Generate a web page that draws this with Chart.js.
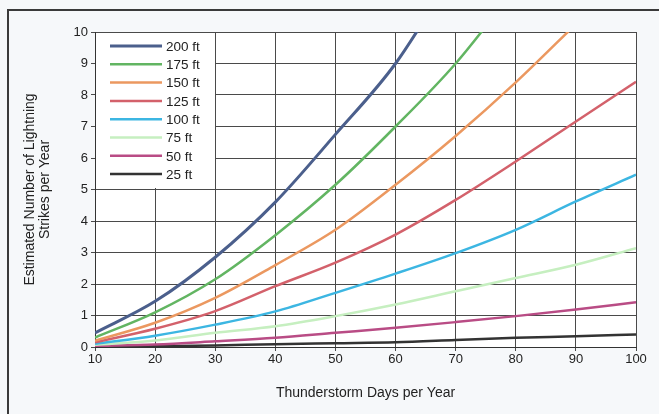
<!DOCTYPE html>
<html>
<head>
<meta charset="utf-8">
<script src="https://cdn.jsdelivr.net/npm/chart.js@4"></script>
<style>
  html, body { margin: 0; padding: 0; background: #f6f8fa; }
  #wrap { width: 659px; height: 414px; }
</style>
</head>
<body>
<div id="wrap"><canvas id="lightning"></canvas></div>
<script>
// thunderstorm days per year (x)
const days = [10, 20, 30, 40, 50, 60, 70, 80, 90, 100];

// estimated strikes per year (values past 10 run off the top)
const ft200 = [0.45, 1.45, 2.85, 4.6, 6.75, 9.0, 12.0];
const ft175 = [0.3, 1.1, 2.15, 3.55, 5.15, 7.0, 9.0, 11.4];
const ft150 = [0.2, 0.77, 1.56, 2.6, 3.72, 5.15, 6.7, 8.4, 10.25];
const ft125 = [0.15, 0.58, 1.14, 1.93, 2.68, 3.57, 4.67, 5.89, 7.16, 8.42];
const ft100 = [0.1, 0.36, 0.71, 1.13, 1.72, 2.33, 2.98, 3.72, 4.62, 5.47];
const ft75 = [0.07, 0.21, 0.45, 0.66, 0.98, 1.35, 1.77, 2.19, 2.61, 3.14];
const ft50 = [0.03, 0.08, 0.18, 0.29, 0.45, 0.61, 0.79, 0.98, 1.19, 1.42];
const ft25 = [0.0, 0.02, 0.05, 0.09, 0.12, 0.15, 0.22, 0.29, 0.34, 0.4];

const seriesLabels = ['200 ft', '175 ft', '150 ft', '125 ft', '100 ft', '75 ft', '50 ft', '25 ft'];
const seriesValues = [ft200, ft175, ft150, ft125, ft100, ft75, ft50, ft25];
const seriesColors = ['#4b5f8c', '#62b562', '#eb9860', '#d3616b', '#3cb6e2', '#c6efc0', '#b94c85', '#333333'];
const seriesWidths = [3, 2.5, 2.5, 2.5, 2.5, 2.5, 2.5, 2.5];

const yTicks = [0, 1, 2, 3, 4, 5, 6, 7, 8, 9, 10];

const font = 'Liberation Sans, Arial, sans-serif';

// outer frame of the scanned figure
const frame = {
  id: 'frame',
  beforeDraw(chart) {
    const {ctx} = chart;
    ctx.save();
    ctx.fillStyle = '#ffffff';
    const a = chart.chartArea;
    ctx.fillRect(a.left, a.top, a.right - a.left, a.bottom - a.top);
    ctx.strokeStyle = '#3a3a3a';
    ctx.lineWidth = 2;
    ctx.beginPath();
    ctx.moveTo(8, 414);
    ctx.lineTo(8, 10);
    ctx.lineTo(659, 10);
    ctx.stroke();
    ctx.restore();
  }
};

// legend box sitting inside the plot, top-left
const insideLegend = {
  id: 'insideLegend',
  afterDatasetsDraw(chart) {
    const {ctx} = chart;
    const a = chart.chartArea;
    ctx.save();
    ctx.fillStyle = '#ffffff';
    ctx.fillRect(a.left + 1, a.top + 1, 119, 155);
    ctx.font = '13.5px ' + font;
    ctx.textBaseline = 'middle';
    ctx.fillStyle = '#222';
    chart.data.datasets.forEach((ds, i) => {
      const y = a.top + 14 + i * 18.3;
      ctx.strokeStyle = ds.borderColor;
      ctx.lineWidth = ds.borderWidth;
      ctx.beginPath();
      ctx.moveTo(a.left + 15, y);
      ctx.lineTo(a.left + 67, y);
      ctx.stroke();
      ctx.fillText(ds.label, a.left + 71, y + 1);
    });
    ctx.restore();
  }
};

new Chart(document.getElementById('lightning'), {
  type: 'line',
  data: {
    datasets: seriesLabels.map((label, i) => ({
      label: label,
      data: seriesValues[i].map((v, j) => ({ x: days[j], y: v })),
      borderColor: seriesColors[i],
      backgroundColor: seriesColors[i],
      borderWidth: seriesWidths[i],
      pointRadius: 0,
      cubicInterpolationMode: 'monotone',
      fill: false
    }))
  },
  options: {
    responsive: true,
    maintainAspectRatio: false,
    animation: false,
    layout: { padding: { left: 23, top: 32, right: 23, bottom: 10 } },
    plugins: {
      legend: { display: false },
      tooltip: { enabled: false }
    },
    scales: {
      x: {
        type: 'linear',
        min: 10,
        max: 100,
        ticks: { stepSize: 10, padding: 1, color: '#222', font: { family: font, size: 13 } },
        grid: { color: '#4a4a4a', lineWidth: 1, tickLength: 4 },
        border: { color: '#333', width: 1 },
        title: {
          display: true,
          text: 'Thunderstorm Days per Year',
          color: '#222',
          font: { family: font, size: 14, lineHeight: 1.05 },
          padding: { top: 0, bottom: 4 }
        },
        afterFit(s) { s.height = 57; }
      },
      y: {
        min: 0,
        max: 10,
        afterBuildTicks(s) { s.ticks = yTicks.map(v => ({ value: v })); },
        ticks: { padding: 3, color: '#222', font: { family: font, size: 13 } },
        grid: { color: '#4a4a4a', lineWidth: 1, tickLength: 4 },
        border: { color: '#333', width: 1 },
        title: {
          display: true,
          text: ['Estimated Number of Lightning', 'Strikes per Year'],
          color: '#222',
          font: { family: font, size: 14, lineHeight: 1.05 },
          padding: 0
        },
        afterFit(s) { s.width = 72; }
      }
    }
  },
  plugins: [frame, insideLegend]
});
</script>
</body>
</html>
